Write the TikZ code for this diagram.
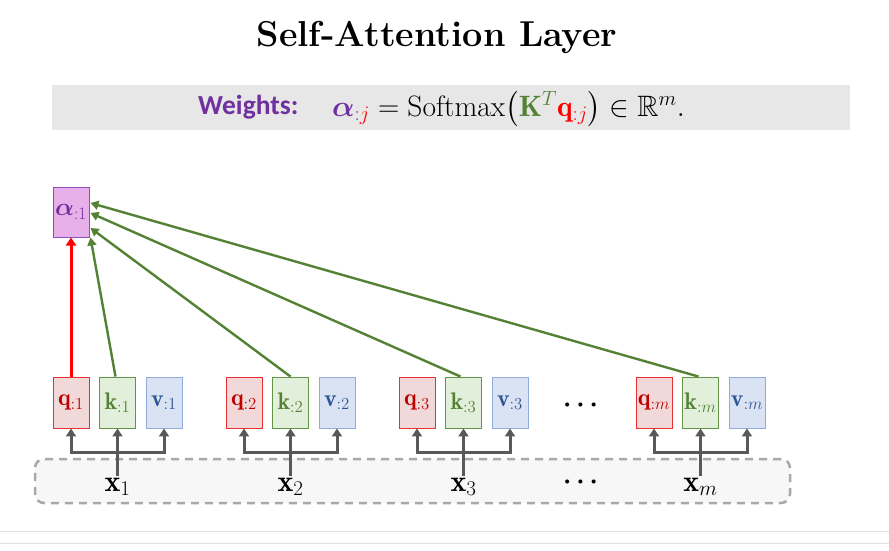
\RequirePackage{fix-cm}
\documentclass[tikz,border=0pt]{standalone}
\usepackage{amsmath,amssymb,bm}
\usepackage{fontspec}
\newfontfamily\calibri{Carlito}
\usetikzlibrary{arrows.meta,calc}
\definecolor{purp}{HTML}{7030A0}
\definecolor{dred}{HTML}{C00000}
\definecolor{qborder}{HTML}{E83030}
\definecolor{kgreen}{HTML}{548235}
\definecolor{kborder}{HTML}{629445}
\definecolor{vblue}{HTML}{2F5597}
\definecolor{vborder}{HTML}{8FAADC}
\definecolor{qfill}{HTML}{F2D9D9}
\definecolor{kfill}{HTML}{E2EFDA}
\definecolor{vfill}{HTML}{DAE3F3}
\definecolor{afill}{HTML}{E8B0E8}
\definecolor{aborder}{HTML}{8E4FB8}
\definecolor{conn}{HTML}{595959}
\definecolor{bandgray}{HTML}{E7E7E7}
\definecolor{dashgray}{HTML}{A8A8A8}
\definecolor{boxbg}{HTML}{F7F7F7}
\definecolor{sepgray}{HTML}{E0E0E0}
\tikzset{
  vecbox/.style={minimum width=36pt, minimum height=51pt, inner sep=0pt, line width=0.9pt, font=\fontsize{24}{28}\selectfont},
  qbox/.style={vecbox, draw=qborder, fill=qfill, text=dred},
  kbox/.style={vecbox, draw=kborder, fill=kfill, text=kgreen},
  vbox/.style={vecbox, draw=vborder, fill=vfill, text=vblue},
  xlabel/.style={inner sep=1pt, anchor=base, font=\fontsize{30}{34}\selectfont},
  gline/.style={draw=conn, line width=3pt, line join=miter},
  gtip/.style={-{Triangle[length=8pt,width=10pt]}},
  greenarrow/.style={draw=kgreen, line width=2.4pt, -{Triangle[length=8pt,width=9pt]}},
  redarrow/.style={draw=red, line width=3pt, -{Triangle[length=8pt,width=10pt]}},
  dotsnode/.style={font=\fontsize{26}{30}\selectfont},
}
\begin{document}
\begin{tikzpicture}[x=1pt,y=-1pt]
\useasboundingbox (0,0) rectangle (889,551);
% title
\node (title) at (437,38) {\fontsize{36}{40}\selectfont\bfseries Self-Attention Layer};
% band
\node (band) [fill=bandgray, minimum width=798pt, minimum height=45pt, inner sep=0pt] at (451,107.5) {};
\node (wlabel) [anchor=base west, inner sep=0pt] at (198,114) {\calibri\bfseries\fontsize{27.5}{32}\selectfont\color{purp}Weights:};
\node (formula) [anchor=base west, inner sep=0pt] at (332,116) {\fontsize{29.5}{34}\selectfont
 $\textcolor{purp}{\bm{\alpha}_{:\textcolor{red}{j}}} = \mathrm{Softmax}\big(\textcolor{kgreen}{\mathbf{K}^T}\textcolor{red}{\mathbf{q}_{:j}}\big) \in \mathbb{R}^m.$};
% separator lines
\draw[sepgray, line width=1pt] (0,531.5) -- (889,531.5);
\draw[sepgray, line width=1pt] (0,543.5) -- (889,543.5);
% dashed input box
\node (xbox) [draw=dashgray, fill=boxbg, line width=2.5pt, dash pattern=on 8pt off 6pt, rounded corners=9pt, minimum width=755pt, minimum height=44pt, inner sep=0pt] at (412.5,481) {};
% alpha box
\node (alpha) [minimum width=36pt, minimum height=50pt, inner sep=0pt, draw=aborder, fill=afill, line width=1pt, font=\fontsize{25}{28}\selectfont] at (71,212) {$\color{purp}\bm{\alpha}_{:1}$};
% groups
\foreach \i/\x in {1/71,2/244,3/417,m/654}{
  \node (q\i) [qbox] at (\x,402.5) {$\mathbf{q}_{:\i}$};
  \node (k\i) [kbox] at (\x+46.5,402.5) {$\mathbf{k}_{:\i}$};
  \node (v\i) [vbox] at (\x+93,402.5) {$\mathbf{v}_{:\i}$};
  \node (x\i) [xlabel] at (\x+46.5,491) {$\mathbf{x}_{\i}$};
  \coordinate (h\i) at (\x+46.5,452);
  \draw[gline,gtip] (x\i.north) -- (k\i.south);
  \draw[gline,{Triangle[length=8pt,width=10pt]}-{Triangle[length=8pt,width=10pt]}] (q\i.south) -- (q\i.south |- h\i) -- (v\i.south |- h\i) -- (v\i.south);
}
% dots
\node (dots1) [dotsnode] at (583,405) {$\bm{\cdots}$};
\node (dots2) [dotsnode] at (583,482) {$\bm{\cdots}$};
% arrows to alpha
\draw[redarrow] (q1.north) -- (alpha.south);
\draw[greenarrow] ([xshift=-2pt]k1.north) -- ([xshift=1pt]alpha.south east);
\draw[greenarrow] (k2.north) -- ([xshift=1pt,yshift=-16pt]alpha.east);
\draw[greenarrow] ([xshift=-3pt]k3.north) -- ([xshift=1pt,yshift=-1pt]alpha.east);
\draw[greenarrow] ([xshift=-2pt]km.north) -- ([xshift=1pt,yshift=9pt]alpha.east);
\end{tikzpicture}
\end{document}
